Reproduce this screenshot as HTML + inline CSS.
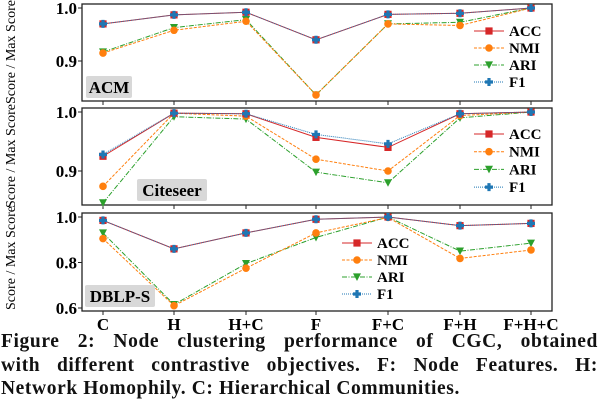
<!DOCTYPE html>
<html><head><meta charset="utf-8"><style>
body{margin:0;width:600px;height:412px;background:#fff;overflow:hidden}
svg{position:absolute;left:0;top:0}
.cap{position:absolute;left:1px;top:330px;width:597px;font-family:"Liberation Serif",serif;font-weight:bold;font-size:19.5px;line-height:23.5px;text-align:justify;color:#111;letter-spacing:0.6px}
.l{display:block;text-align-last:justify}
.last{display:block;text-align-last:left}
</style></head><body>
<svg id="s" width="600" height="412" xmlns="http://www.w3.org/2000/svg" font-family="Liberation Serif, serif" font-weight="bold"></svg>
<div class="cap"><span class="l">Figure 2: Node clustering performance of CGC, obtained</span><span class="l">with different contrastive objectives. F: Node Features. H:</span><span class="last">Network Homophily. C: Hierarchical Communities.</span></div>
<script>
const s=document.getElementById('s');let h='';
const X=[103,174,246,316,388,460,531];
const col={ACC:'#d62728',NMI:'#ff7f0e',ARI:'#2ca02c',F1:'#1f77b4'};
const dash={ACC:'',NMI:'3,1.5',ARI:'5,1.5,1,1.5',F1:'1,1'};
function mk(k,x,y){const c=col[k];
 if(k=='ACC')return `<rect x="${x-3.6}" y="${y-3.6}" width="7.2" height="7.2" fill="${c}"/>`;
 if(k=='NMI')return `<circle cx="${x}" cy="${y}" r="3.8" fill="${c}"/>`;
 if(k=='ARI')return `<polygon points="${x-4},${y-3.6} ${x+4},${y-3.6} ${x},${y+4}" fill="${c}"/>`;
 return `<path d="M${x-1.6} ${y-4}h3.2v2.4h2.4v3.2h-2.4v2.4h-3.2v-2.4h-2.4v-3.2h2.4z" fill="${c}"/>`;}
function panel(t,b,ticks,yv,data,name,nb,leg){
 const f=v=>yv[0][1]+(v-yv[0][0])*(yv[1][1]-yv[0][1])/(yv[1][0]-yv[0][0]);
 h+=`<rect x="82" y="${t}" width="470" height="${b-t}" fill="none" stroke="#222" stroke-width="1.3"/>`;
 ticks.forEach(v=>{const y=f(v);h+=`<line x1="78" y1="${y}" x2="82" y2="${y}" stroke="#222"/><text x="77" y="${y+6}" text-anchor="end" font-size="17">${v.toFixed(1)}</text>`});
 X.forEach(x=>h+=`<line x1="${x}" y1="${b}" x2="${x}" y2="${b+4}" stroke="#222"/>`);
 ['ARI','NMI','ACC','F1'].forEach(k=>{const p=data[k].map((v,i)=>X[i]+','+f(v)).join(' ');
  h+=`<polyline points="${p}" fill="none" stroke="${col[k]}" stroke-width="1" stroke-dasharray="${dash[k]}"/>`;
  data[k].forEach((v,i)=>h+=mk(k,X[i],f(v)));});
 h+=`<rect x="${nb[0]}" y="${nb[1]}" width="${nb[2]}" height="22" rx="2" fill="#d8d8d8"/><text x="${nb[0]+nb[2]/2}" y="${nb[1]+17}" text-anchor="middle" font-size="17">${name}</text>`;
 ['ACC','NMI','ARI','F1'].forEach((k,i)=>{const y=leg[1]+i*leg[2];
  h+=`<line x1="${leg[0]}" y1="${y}" x2="${leg[0]+30}" y2="${y}" stroke="${col[k]}" stroke-dasharray="${dash[k]}"/>`+mk(k,leg[0]+15,y)+`<text x="${leg[0]+35}" y="${y+5}" font-size="15">${k}</text>`});
}
panel(4,101,[1.0,0.9],[[1,8],[0.9,61]],{ACC:[.970,.987,.992,.94,.988,.99,1],F1:[.970,.987,.992,.94,.988,.99,1],NMI:[.915,.958,.975,.836,.97,.967,1],ARI:[.917,.963,.978,.836,.97,.973,1]},'ACM',[86,76,46],[474,31,17]);
panel(108,205,[1.0,0.9],[[1,112],[0.9,171]],{ACC:[.925,.998,.997,.957,.94,.997,1],F1:[.928,.998,.997,.962,.946,.997,1],NMI:[.874,.998,.993,.92,.9,.994,1],ARI:[.846,.992,.988,.898,.88,.99,1]},'Citeseer',[137,179,70],[474,134,17.7]);
panel(213,311,[1.0,0.8,0.6],[[1,217],[0.6,308]],{ACC:[.985,.86,.93,.99,1,.962,.972],F1:[.985,.86,.93,.99,1,.962,.972],NMI:[.905,.61,.775,.93,.998,.818,.855],ARI:[.93,.615,.795,.91,1,.85,.885]},'DBLP-S',[85,285,70],[342,243,17]);
['C','H','H+C','F','F+C','F+H','F+H+C'].forEach((t,i)=>h+=`<text x="${X[i]}" y="330" text-anchor="middle" font-size="17">${t}</text>`);
[[52,'Score / Max Score'],[156,'Score / Max Score'],[258,'Score / Max Score']].forEach(([y,t])=>h+=`<text transform="translate(15,${y}) rotate(-90)" text-anchor="middle" font-size="13.5" font-weight="normal" textLength="104" lengthAdjust="spacingAndGlyphs">${t}</text>`);
s.innerHTML=h;
</script>
</body></html>
